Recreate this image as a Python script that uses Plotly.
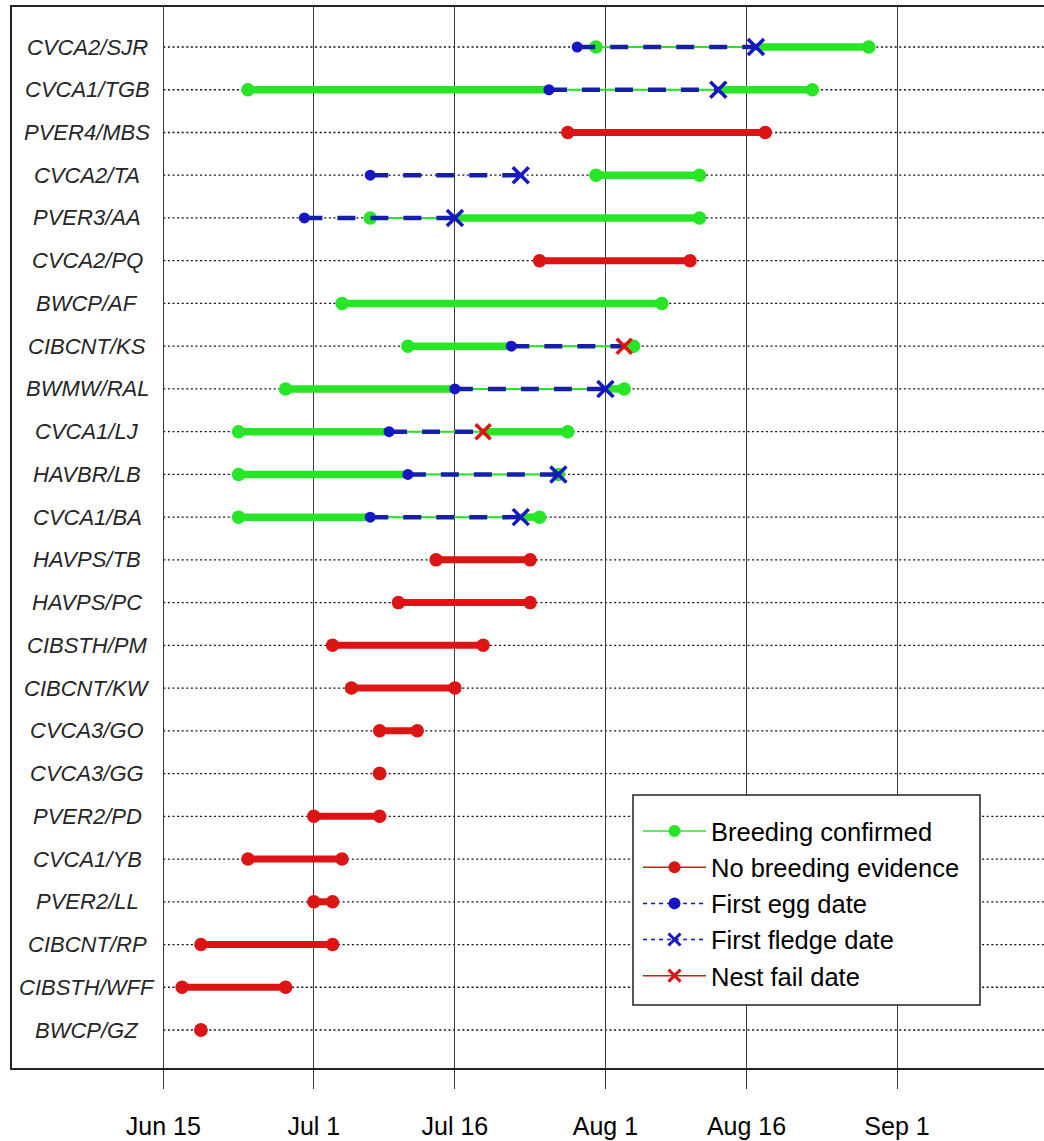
import plotly.graph_objects as go

# ---------------- data ----------------
labels = ["CVCA2/SJR", "CVCA1/TGB", "PVER4/MBS", "CVCA2/TA", "PVER3/AA", "CVCA2/PQ",
          "BWCP/AF", "CIBCNT/KS", "BWMW/RAL", "CVCA1/LJ", "HAVBR/LB", "CVCA1/BA",
          "HAVPS/TB", "HAVPS/PC", "CIBSTH/PM", "CIBCNT/KW", "CVCA3/GO", "CVCA3/GG",
          "PVER2/PD", "CVCA1/YB", "PVER2/LL", "CIBCNT/RP", "CIBSTH/WFF", "BWCP/GZ"]
confirmed = [True, True, False, True, True, False,
             True, True, True, True, True, True,
             False, False, False, False, False, False,
             False, False, False, False, False, False]
first_obs = ["2011-07-31", "2011-06-24", "2011-07-28", "2011-07-31", "2011-07-07", "2011-07-25",
             "2011-07-04", "2011-07-11", "2011-06-28", "2011-06-23", "2011-06-23", "2011-06-23",
             "2011-07-14", "2011-07-10", "2011-07-03", "2011-07-05", "2011-07-08", "2011-07-08",
             "2011-07-01", "2011-06-24", "2011-07-01", "2011-06-19", "2011-06-17", "2011-06-19"]
last_obs = ["2011-08-29", "2011-08-23", "2011-08-18", "2011-08-11", "2011-08-11", "2011-08-10",
            "2011-08-07", "2011-08-04", "2011-08-03", "2011-07-28", "2011-07-27", "2011-07-25",
            "2011-07-24", "2011-07-24", "2011-07-19", "2011-07-16", "2011-07-12", "2011-07-08",
            "2011-07-08", "2011-07-04", "2011-07-03", "2011-07-03", "2011-06-28", "2011-06-19"]
first_egg = ["2011-07-29", "2011-07-26", None, "2011-07-07", "2011-06-30", None,
             None, "2011-07-22", "2011-07-16", "2011-07-09", "2011-07-11", "2011-07-07",
             None, None, None, None, None, None, None, None, None, None, None, None]
first_fledge = ["2011-08-17", "2011-08-13", None, "2011-07-23", "2011-07-16", None,
                None, None, "2011-08-01", None, "2011-07-27", "2011-07-23",
                None, None, None, None, None, None, None, None, None, None, None, None]
nest_fail = [None, None, None, None, None, None,
             None, "2011-08-03", None, "2011-07-19", None, None,
             None, None, None, None, None, None, None, None, None, None, None, None]

tick_vals = ["2011-06-15", "2011-07-01", "2011-07-16", "2011-08-01", "2011-08-16", "2011-09-01"]
tick_text = ["Jun 15", "Jul 1", "Jul 16", "Aug 1", "Aug 16", "Sep 1"]
legend_names = ["Breeding confirmed", "No breeding evidence", "First egg date",
                "First fledge date", "Nest fail date"]

# ---------------- style ----------------
GREEN = "#26e626"
RED = "#dc1414"
BLUE = "#1616c4"
FONT = "Liberation Sans, Arial, sans-serif"
X_RANGE = ["2011-05-29 22:00", "2011-09-16 15:00"]
W, H = 1044, 1141
ML, MR, MT, MB = 12, 0, 7, 73
PW, PH = W - ML - MR, H - MT - MB


def px_to_paper(xp, yp):
    return (xp - ML) / PW, (H - MB - yp) / PH


n = len(labels)
ypos = [n - i for i in range(n)]

thick_g_x, thick_g_y = [], []
thick_r_x, thick_r_y = [], []
end_g_x, end_g_y = [], []
end_r_x, end_r_y = [], []
thin_x, thin_y = [], []
dash_x, dash_y = [], []
egg_x, egg_y = [], []
fl_x, fl_y = [], []
fail_x, fail_y = [], []

for i in range(n):
    s, e, y = first_obs[i], last_obs[i], ypos[i]
    ns = first_egg[i]
    ne = first_fledge[i] or nest_fail[i]
    if confirmed[i]:
        segs = []
        if ns is None:
            segs.append((s, e))
        else:
            if s < ns:
                segs.append((s, min(e, ns)))
            if e > ne:
                segs.append((max(s, ne), e))
            a, b = max(s, ns), min(e, ne)
            if a < b:
                thin_x += [a, b, None]
                thin_y += [y, y, None]
        for a, b in segs:
            thick_g_x += [a, b, None]
            thick_g_y += [y, y, None]
        end_g_x += [s, e]
        end_g_y += [y, y]
    else:
        thick_r_x += [s, e, None]
        thick_r_y += [y, y, None]
        end_r_x += [s, e]
        end_r_y += [y, y]
    if ns is not None:
        dash_x += [ns, ne, None]
        dash_y += [y, y, None]
        egg_x.append(ns)
        egg_y.append(y)
    if first_fledge[i] is not None:
        fl_x.append(first_fledge[i])
        fl_y.append(y)
    if nest_fail[i] is not None:
        fail_x.append(nest_fail[i])
        fail_y.append(y)

fig = go.Figure()

fig.add_trace(go.Scatter(x=thick_g_x, y=thick_g_y, mode="lines",
                         line=dict(color=GREEN, width=7.5), showlegend=False, hoverinfo="skip"))
fig.add_trace(go.Scatter(x=thick_r_x, y=thick_r_y, mode="lines",
                         line=dict(color=RED, width=7), showlegend=False, hoverinfo="skip"))
fig.add_trace(go.Scatter(x=thin_x, y=thin_y, mode="lines",
                         line=dict(color=GREEN, width=2), showlegend=False, hoverinfo="skip"))
fig.add_trace(go.Scatter(x=end_g_x, y=end_g_y, mode="markers",
                         marker=dict(color=GREEN, size=13.5), showlegend=False))
fig.add_trace(go.Scatter(x=end_r_x, y=end_r_y, mode="markers",
                         marker=dict(color=RED, size=13.5), showlegend=False))
fig.add_trace(go.Scatter(x=dash_x, y=dash_y, mode="lines",
                         line=dict(color="#1420a8", width=4.5, dash="18px,15px"),
                         showlegend=False, hoverinfo="skip"))
fig.add_trace(go.Scatter(x=egg_x, y=egg_y, mode="markers",
                         marker=dict(color=BLUE, size=11), showlegend=False))
fig.add_trace(go.Scatter(x=fl_x, y=fl_y, mode="markers",
                         marker=dict(symbol="x-thin", size=16, line=dict(color=BLUE, width=3.5)),
                         showlegend=False))
fig.add_trace(go.Scatter(x=fail_x, y=fail_y, mode="markers",
                         marker=dict(symbol="x-thin", size=15, line=dict(color=RED, width=3.5)),
                         showlegend=False))

# legend entries
leg_styles = [
    dict(line=dict(color=GREEN, width=1.5), marker=dict(color=GREEN, size=12)),
    dict(line=dict(color=RED, width=1.5), marker=dict(color=RED, size=12)),
    dict(line=dict(color=BLUE, width=1.5, dash="4px,4px"), marker=dict(color=BLUE, size=12)),
    dict(line=dict(color=BLUE, width=1.5, dash="4px,4px"),
         marker=dict(symbol="x-thin", size=12, line=dict(color=BLUE, width=3))),
    dict(line=dict(color=RED, width=1.5),
         marker=dict(symbol="x-thin", size=12, line=dict(color=RED, width=3))),
]
for name, st in zip(legend_names, leg_styles):
    fig.add_trace(go.Scatter(x=[None], y=[None], mode="lines+markers", name=name, **st))

# dotted guide lines for each row
for y in ypos:
    fig.add_shape(type="line", xref="x", yref="y", x0=tick_vals[0], x1=X_RANGE[1],
                  y0=y, y1=y, line=dict(color="#111111", width=1.3, dash="2px,2.6px"),
                  layer="below")

# legend frame (box drawn behind the legend entries)
bx0, by0 = px_to_paper(633, 1005)
bx1, by1 = px_to_paper(980, 795)
fig.add_shape(type="rect", xref="paper", yref="paper", x0=bx0, x1=bx1, y0=by0, y1=by1,
              fillcolor="white", line=dict(color="#222222", width=1.5), layer="above")

# row labels
lab_x, _ = px_to_paper(87, 0)
for lab, y in zip(labels, ypos):
    fig.add_annotation(x=lab_x, xref="paper", y=y, yref="y", text=lab, showarrow=False,
                       xanchor="center", yanchor="middle",
                       font=dict(family=FONT, size=22, color="#262626", style="italic"))

lx, ly = px_to_paper(638, 808)
fig.update_layout(
    width=W, height=H,
    margin=dict(l=ML, r=MR, t=MT, b=MB),
    paper_bgcolor="white", plot_bgcolor="white",
    font=dict(family=FONT, color="black"),
    legend=dict(x=lx, y=ly, xanchor="left", yanchor="top",
                bgcolor="rgba(0,0,0,0)", borderwidth=0,
                font=dict(family=FONT, size=25.5, color="black"),
                itemwidth=63),
    xaxis=dict(type="date", range=X_RANGE, tickvals=tick_vals, ticktext=tick_text,
               showgrid=True, gridcolor="#3a3a3a", gridwidth=1,
               ticks="outside", ticklen=19, tickcolor="#3a3a3a", tickwidth=1,
               ticklabelstandoff=16,
               tickfont=dict(family=FONT, size=25, color="black"),
               showline=True, linecolor="#222222", linewidth=2, mirror=True,
               zeroline=False, automargin=False, fixedrange=True),
    yaxis=dict(range=[0.111, 24.936], showgrid=False, showticklabels=False, ticks="",
               showline=True, linecolor="#222222", linewidth=2, mirror=False,
               zeroline=False, automargin=False, fixedrange=True),
)

fig.write_html("out.html", config={"displayModeBar": False},
               post_script="document.body.style.margin='0';")
